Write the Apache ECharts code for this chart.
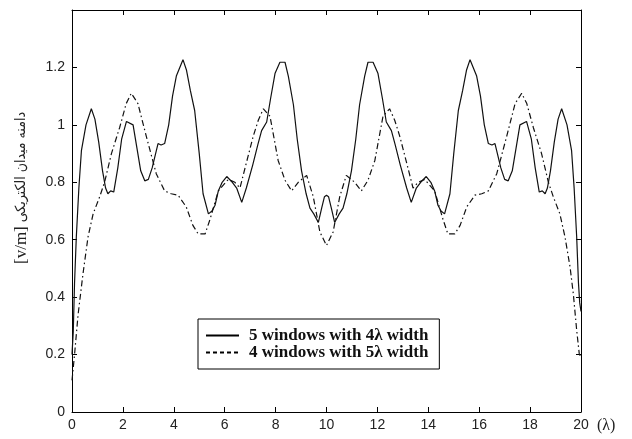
<!DOCTYPE html>
<html lang="en">
<head>
<meta charset="UTF-8">
<title>field amplitude</title>
<script src="https://cdn.jsdelivr.net/npm/echarts@6/dist/echarts.min.js"></script>
<style>
  html, body { margin: 0; padding: 0; background: #fff; }
</style>
</head>
<body>
<div id="main" style="width: 632px;height: 439px;"></div>
<script>
// x positions (in wavelengths) and amplitudes
var solidX = [0, 0.05, 0.1, 0.17, 0.27, 0.37, 0.55, 0.76, 0.9, 1.05, 1.2, 1.32, 1.41, 1.52, 1.64, 1.8, 1.95, 2.14, 2.4, 2.55,
  2.7, 2.86, 3.0, 3.15, 3.38, 3.5, 3.64, 3.8, 3.95, 4.1, 4.36, 4.5, 4.65, 4.82, 5.0, 5.15, 5.36, 5.5, 5.62, 5.75,
  5.9, 6.08, 6.3, 6.47, 6.67, 6.85, 7.1, 7.3, 7.45, 7.65, 7.8, 7.98, 8.17, 8.37, 8.5, 8.7, 8.85, 9.02, 9.2, 9.35,
  9.5, 9.68, 9.81, 9.92, 10.0, 10.08, 10.19, 10.32, 10.5, 10.65, 10.8, 10.98, 11.15, 11.3, 11.5, 11.63, 11.83, 12.02, 12.2, 12.35,
  12.55, 12.7, 12.9, 13.15, 13.33, 13.53, 13.7, 13.92, 14.1, 14.25, 14.38, 14.5, 14.64, 14.85, 15.0, 15.18, 15.35, 15.5, 15.64, 15.9,
  16.05, 16.2, 16.36, 16.5, 16.62, 16.85, 17.0, 17.14, 17.3, 17.45, 17.6, 17.86, 18.05, 18.2, 18.36, 18.48, 18.59, 18.68, 18.8, 18.95,
  19.1, 19.24, 19.45, 19.63, 19.73, 19.83, 19.9, 19.95, 20.0];
var solidY = [0.20, 0.28, 0.45, 0.61, 0.78, 0.91, 1.0, 1.056, 1.02, 0.94, 0.84, 0.78, 0.76, 0.77, 0.766, 0.85, 0.95, 1.012, 1.0, 0.92,
  0.84, 0.805, 0.81, 0.85, 0.935, 0.93, 0.935, 1.0, 1.10, 1.17, 1.227, 1.19, 1.12, 1.05, 0.9, 0.76, 0.69, 0.70, 0.72, 0.77,
  0.80, 0.82, 0.80, 0.78, 0.73, 0.78, 0.86, 0.93, 0.98, 1.01, 1.09, 1.18, 1.218, 1.218, 1.17, 1.07, 0.95, 0.84, 0.76, 0.71,
  0.69, 0.66, 0.71, 0.75, 0.755, 0.75, 0.71, 0.66, 0.69, 0.71, 0.76, 0.84, 0.95, 1.07, 1.17, 1.218, 1.218, 1.18, 1.09, 1.01,
  0.98, 0.93, 0.86, 0.78, 0.73, 0.78, 0.80, 0.82, 0.80, 0.77, 0.72, 0.70, 0.69, 0.76, 0.9, 1.05, 1.12, 1.19, 1.227, 1.17,
  1.10, 1.0, 0.935, 0.93, 0.935, 0.85, 0.81, 0.805, 0.84, 0.92, 1.0, 1.012, 0.95, 0.85, 0.766, 0.77, 0.76, 0.78, 0.84, 0.94,
  1.02, 1.056, 1.0, 0.91, 0.78, 0.61, 0.45, 0.38, 0.35];

var dashX = [0, 0.1, 0.24, 0.43, 0.63, 0.83, 1.09, 1.28, 1.55, 1.87, 2.13, 2.33, 2.59, 2.92, 3.31, 3.64, 3.9, 4.17, 4.49, 4.75,
  4.96, 5.23, 5.42, 5.75, 6.14, 6.4, 6.6, 6.8, 7.12, 7.32, 7.52, 7.78, 8.1, 8.37, 8.63, 8.89, 9.22, 9.48, 9.74, 10.0,
  10.26, 10.52, 10.78, 11.11, 11.37, 11.63, 11.9, 12.22, 12.48, 12.68, 12.88, 13.2, 13.4, 13.6, 13.86, 14.25, 14.58, 14.77, 15.04, 15.25,
  15.51, 15.83, 16.1, 16.36, 16.69, 17.08, 17.41, 17.67, 17.87, 18.13, 18.45, 18.72, 18.91, 19.17, 19.37, 19.57, 19.7, 19.83, 19.93, 20.0];
var dashY = [0.11, 0.2, 0.34, 0.48, 0.61, 0.69, 0.75, 0.80, 0.90, 0.99, 1.074, 1.11, 1.074, 0.96, 0.83, 0.77, 0.76, 0.755, 0.714, 0.65,
  0.62, 0.62, 0.67, 0.77, 0.81, 0.80, 0.78, 0.85, 0.96, 1.016, 1.056, 1.03, 0.876, 0.807, 0.77, 0.80, 0.824, 0.75, 0.627, 0.58,
  0.627, 0.75, 0.824, 0.80, 0.77, 0.807, 0.876, 1.03, 1.056, 1.016, 0.96, 0.85, 0.78, 0.80, 0.81, 0.77, 0.67, 0.62, 0.62, 0.65,
  0.714, 0.755, 0.76, 0.77, 0.83, 0.96, 1.074, 1.11, 1.074, 0.99, 0.90, 0.80, 0.75, 0.69, 0.61, 0.505, 0.41, 0.285, 0.204, 0.19];

var seriesNames = ['5 windows with 4\u03bb width', '4 windows with 5\u03bb width'];

function pairs(xs, ys) {
  var out = [];
  for (var i = 0; i < xs.length; i++) out.push([xs[i], ys[i]]);
  return out;
}

var chartDom = document.getElementById('main');
var myChart = echarts.init(chartDom);

var tickStyle = { inside: true, length: 5, lineStyle: { color: '#000', width: 1 } };
var lineAxis = { show: true, onZero: false, lineStyle: { color: '#000', width: 1 } };
var labelFont = { color: '#222', fontSize: 14, fontFamily: 'Liberation Sans, Arial, sans-serif' };
var hidden = { color: 'rgba(0,0,0,0)', borderColor: 'rgba(0,0,0,0)', borderWidth: 0 };

var option = {
  backgroundColor: '#fff',
  animation: false,
  grid: { left: 72, right: 51, top: 10, bottom: 27 },
  legend: {
    left: 198,
    top: 319,
    orient: 'vertical',
    backgroundColor: '#fff',
    borderColor: '#000',
    borderWidth: 1,
    borderRadius: 0,
    padding: [8, 11, 8, 7],
    itemGap: 0,
    itemWidth: 33,
    itemHeight: 17,
    textStyle: {
      color: '#111', fontSize: 17, lineHeight: 17, fontWeight: 'bold', padding: [0, 0, 0, 5],
      fontFamily: 'Liberation Serif, Times New Roman, serif'
    },
    data: [
      { name: seriesNames[0], icon: 'inherit', itemStyle: hidden, lineStyle: { type: 'solid', width: 2, color: '#000' } },
      { name: seriesNames[1], icon: 'inherit', itemStyle: hidden, lineStyle: { type: [4, 3], width: 2, color: '#000' } }
    ]
  },
  xAxis: [
    {
      type: 'value', min: 0, max: 20, interval: 2,
      axisLine: lineAxis, axisTick: tickStyle, splitLine: { show: false },
      axisLabel: Object.assign({ margin: 6 }, labelFont),
      name: '(\u03bb)', nameLocation: 'end', nameGap: 16,
      nameTextStyle: { color: '#222', fontSize: 16, fontFamily: 'Liberation Serif, serif', verticalAlign: 'top', padding: [6, 0, 0, 0] }
    },
    {
      type: 'value', position: 'top', min: 0, max: 20, interval: 2,
      axisLine: lineAxis, axisTick: tickStyle, splitLine: { show: false }, axisLabel: { show: false }
    }
  ],
  yAxis: [
    {
      type: 'value', min: 0, max: 1.4, interval: 0.2,
      axisLine: lineAxis, axisTick: tickStyle, splitLine: { show: false },
      axisLabel: Object.assign({
        margin: 7,
        formatter: function (v) { return v > 1.3 ? '' : String(+v.toFixed(1)); }
      }, labelFont),
      name: '{a|[v/m]} {b|\u062f\u0627\u0645\u0646\u0647 \u0645\u06cc\u062f\u0627\u0646 \u0627\u0644\u06a9\u062a\u0631\u06cc\u06a9\u06cc}',
      nameLocation: 'middle', nameGap: 42,
      nameTextStyle: {
        color: '#222', fontSize: 14, padding: [0, 0, 0, 46],
        rich: {
          a: { fontSize: 17, fontFamily: 'Liberation Serif, serif', color: '#222' },
          b: { fontSize: 14, fontFamily: 'DejaVu Sans Condensed, DejaVu Sans, serif', color: '#222' }
        }
      }
    },
    {
      type: 'value', position: 'right', min: 0, max: 1.4, interval: 0.2,
      axisLine: lineAxis, axisTick: tickStyle, splitLine: { show: false }, axisLabel: { show: false }
    }
  ],
  series: [
    {
      name: seriesNames[0], type: 'line', data: pairs(solidX, solidY),
      symbol: 'none', smooth: false,
      lineStyle: { color: '#111', width: 1.2, type: 'solid' },
      itemStyle: { color: '#111' }
    },
    {
      name: seriesNames[1], type: 'line', data: pairs(dashX, dashY),
      symbol: 'none', smooth: false,
      lineStyle: { color: '#111', width: 1.2, type: [6, 3, 1.5, 3] },
      itemStyle: { color: '#111' }
    }
  ]
};

myChart.setOption(option);
</script>
</body>
</html>
